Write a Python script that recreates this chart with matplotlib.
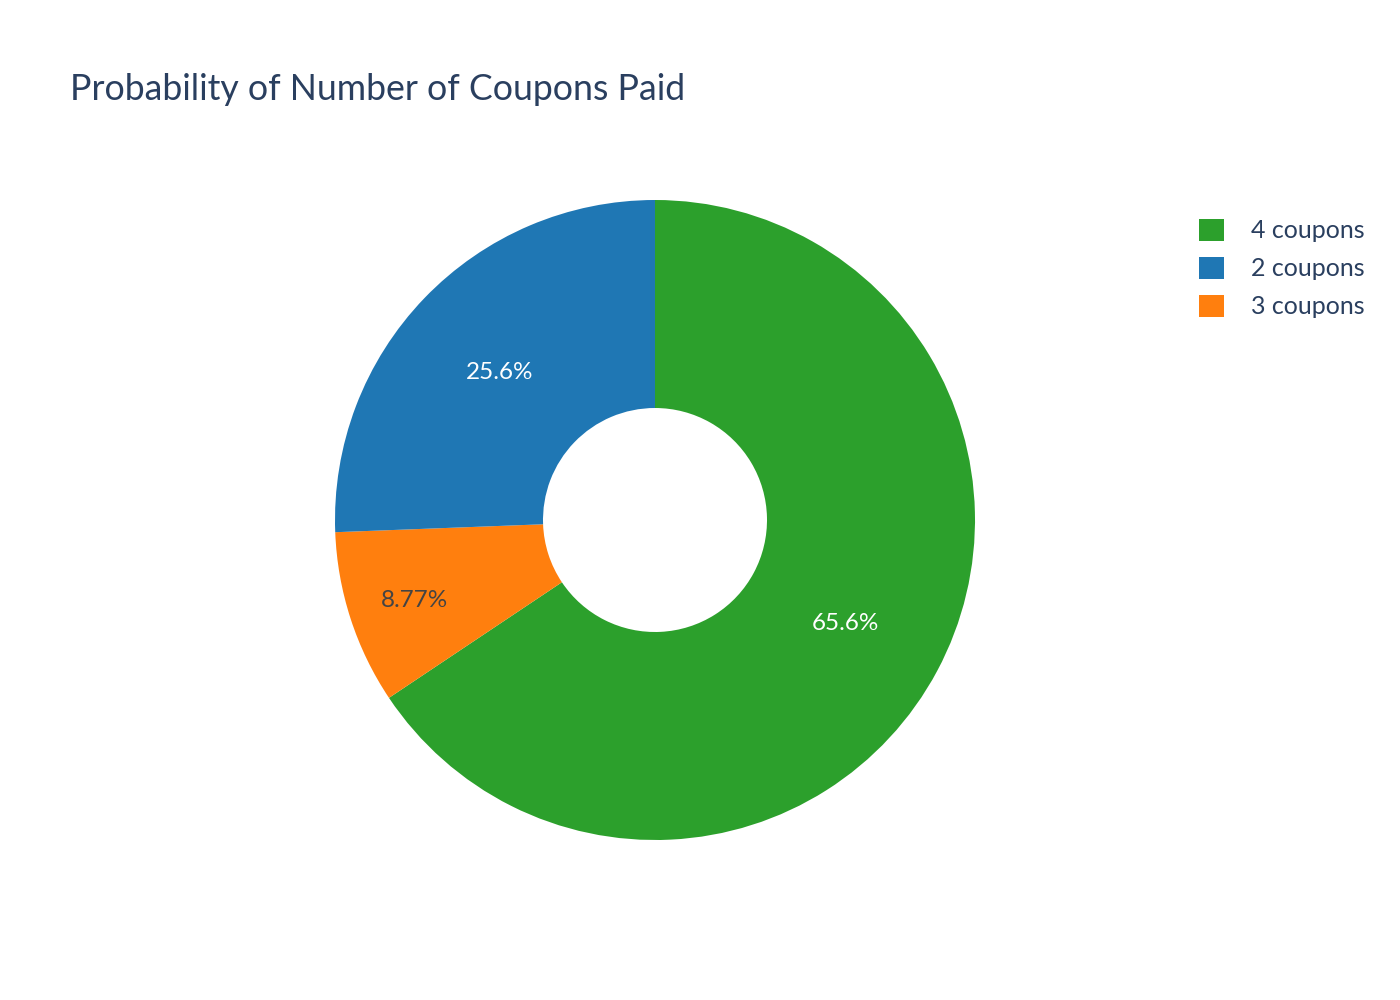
"""
Donut chart: probability of the number of coupons paid.
"""

import matplotlib

matplotlib.use("Agg")
import matplotlib.pyplot as plt
import numpy as np

# slice order as drawn, clockwise from the top
labels = ["4 coupons", "3 coupons", "2 coupons"]
probs = [0.656, 0.0877, 0.256]
colors = ["#2ca02c", "#ff7f0e", "#1f77b4"]
text_colors = ["white", "#444444", "white"]

# legend order
legend_order = ["4 coupons", "2 coupons", "3 coupons"]

TITLE = "Probability of Number of Coupons Paid"
FONT = ["Lato", "DejaVu Sans"]
TEXT_COLOR = "#2a3f5f"


def fmt_pct(p):
    # plotly-style: three significant digits
    return f"{float(f'{p * 100:.3g}'):g}%"


fig = plt.figure(figsize=(14, 10), dpi=100)
ax = fig.add_axes([335 / 1400, 160 / 1000, 640 / 1400, 640 / 1000])

total = sum(probs)
wedges, _ = ax.pie(
    probs,
    colors=colors,
    startangle=90,
    counterclock=False,
    radius=1.0,
    wedgeprops=dict(width=1 - 0.35, linewidth=0),
)

# percentage labels sit mid-ring, the small slice is pushed outward a bit
for w, p, tc in zip(wedges, probs, text_colors):
    mid = np.deg2rad((w.theta1 + w.theta2) / 2)
    r = 0.675 if p / total > 0.15 else 0.79
    ax.text(
        r * np.cos(mid),
        r * np.sin(mid),
        fmt_pct(p / total),
        ha="center",
        va="center_baseline",
        color=tc,
        fontsize=17.5,
        family=FONT,
    )

ax.set_xlim(-1, 1)
ax.set_ylim(-1, 1)
ax.set_aspect("equal")
ax.axis("off")

handles = [wedges[labels.index(name)] for name in legend_order]
leg = fig.legend(
    handles,
    legend_order,
    loc="upper left",
    bbox_to_anchor=(1176 / 1400, 1 - 196 / 1000),
    frameon=False,
    handlelength=1.0,
    handleheight=1.0,
    handletextpad=1.1,
    labelspacing=0.57,
    prop=dict(family=FONT, size=18),
)
for t in leg.get_texts():
    t.set_color(TEXT_COLOR)

fig.text(
    70 / 1400,
    1 - 89 / 1000,
    TITLE,
    ha="left",
    va="center",
    fontsize=25.7,
    color=TEXT_COLOR,
    family=FONT,
)

fig.savefig("out.png", dpi=100, facecolor="white")
